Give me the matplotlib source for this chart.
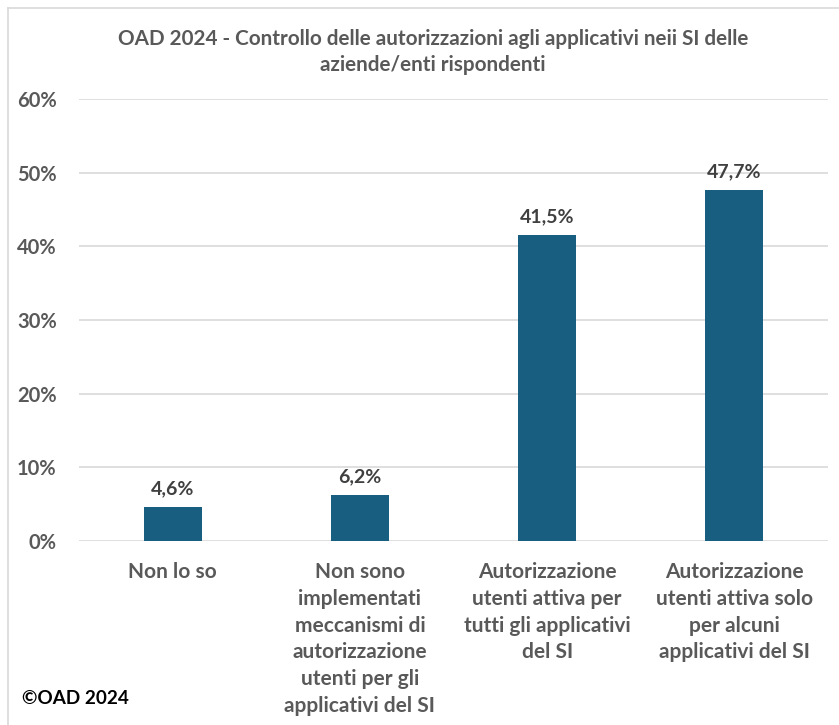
import matplotlib
matplotlib.use("Agg")
import matplotlib.pyplot as plt
from matplotlib.lines import Line2D
from matplotlib.ticker import FuncFormatter

plt.rcParams['font.family'] = ['Lato', 'DejaVu Sans']

categories = [
    "Non lo so",
    "Non sono\nimplementati\nmeccanismi di\nautorizzazione\nutenti per gli\napplicativi del SI",
    "Autorizzazione\nutenti attiva per\ntutti gli applicativi\ndel SI",
    "Autorizzazione\nutenti attiva solo\nper alcuni\napplicativi del SI",
]
values = [4.6, 6.2, 41.5, 47.7]
yticks = [0, 10, 20, 30, 40, 50, 60]
title = "OAD 2024 - Controllo delle autorizzazioni agli applicativi neii SI delle\naziende/enti rispondenti"
credit = "©OAD 2024"

W, H = 839, 725
fig = plt.figure(figsize=(W / 100, H / 100), dpi=100)
fig.patch.set_facecolor("white")

ax = fig.add_axes([79 / W, (H - 541) / H, (828 - 79) / W, (541 - 99) / H])
x = list(range(len(categories)))
ax.bar(x, values, width=0.31, color="#175E80", zorder=3)

ax.set_xlim(-0.5, len(categories) - 0.5)
ax.set_ylim(0, 60)
ax.set_yticks(yticks)
ax.yaxis.set_major_formatter(FuncFormatter(lambda v, p: f"{int(v)}%"))
ax.grid(axis="y", color="#D9D9D9", linewidth=1.2, zorder=0)
for s in ax.spines.values():
    s.set_visible(False)
ax.tick_params(axis="y", length=0, pad=16, labelsize=14.5, labelcolor="#595959")
ax.tick_params(axis="x", length=0, pad=15, labelsize=15, labelcolor="#595959")
for lbl in ax.get_yticklabels():
    lbl.set_fontweight("bold")
ax.set_xticks(x)
ax.set_xticklabels(categories, fontweight="bold", linespacing=1.43)

for xi, v in zip(x, values):
    ax.annotate(f"{v:.1f}".replace(".", ",") + "%", (xi, v), xytext=(0, 7),
                textcoords="offset points", ha="center", va="bottom",
                fontsize=14, fontweight="bold", color="#404040")

fig.text(433 / W, 1 - 52 / H, title, ha="center", va="center",
         fontsize=14.9, fontweight="bold", color="#595959", linespacing=1.37)
fig.text(22 / W, 1 - 698 / H, credit, ha="left", va="center",
         fontsize=13.6, fontweight="bold", color="black")

# Frame around the chart area
fig.add_artist(Line2D([8 / W, 8 / W], [1 - 8 / H, 0], transform=fig.transFigure,
                      color="#D9D9D9", linewidth=1.2))
fig.add_artist(Line2D([8 / W, 1], [1 - 8 / H, 1 - 8 / H], transform=fig.transFigure,
                      color="#D9D9D9", linewidth=1.2))

fig.savefig("out.png", dpi=100, facecolor="white")
